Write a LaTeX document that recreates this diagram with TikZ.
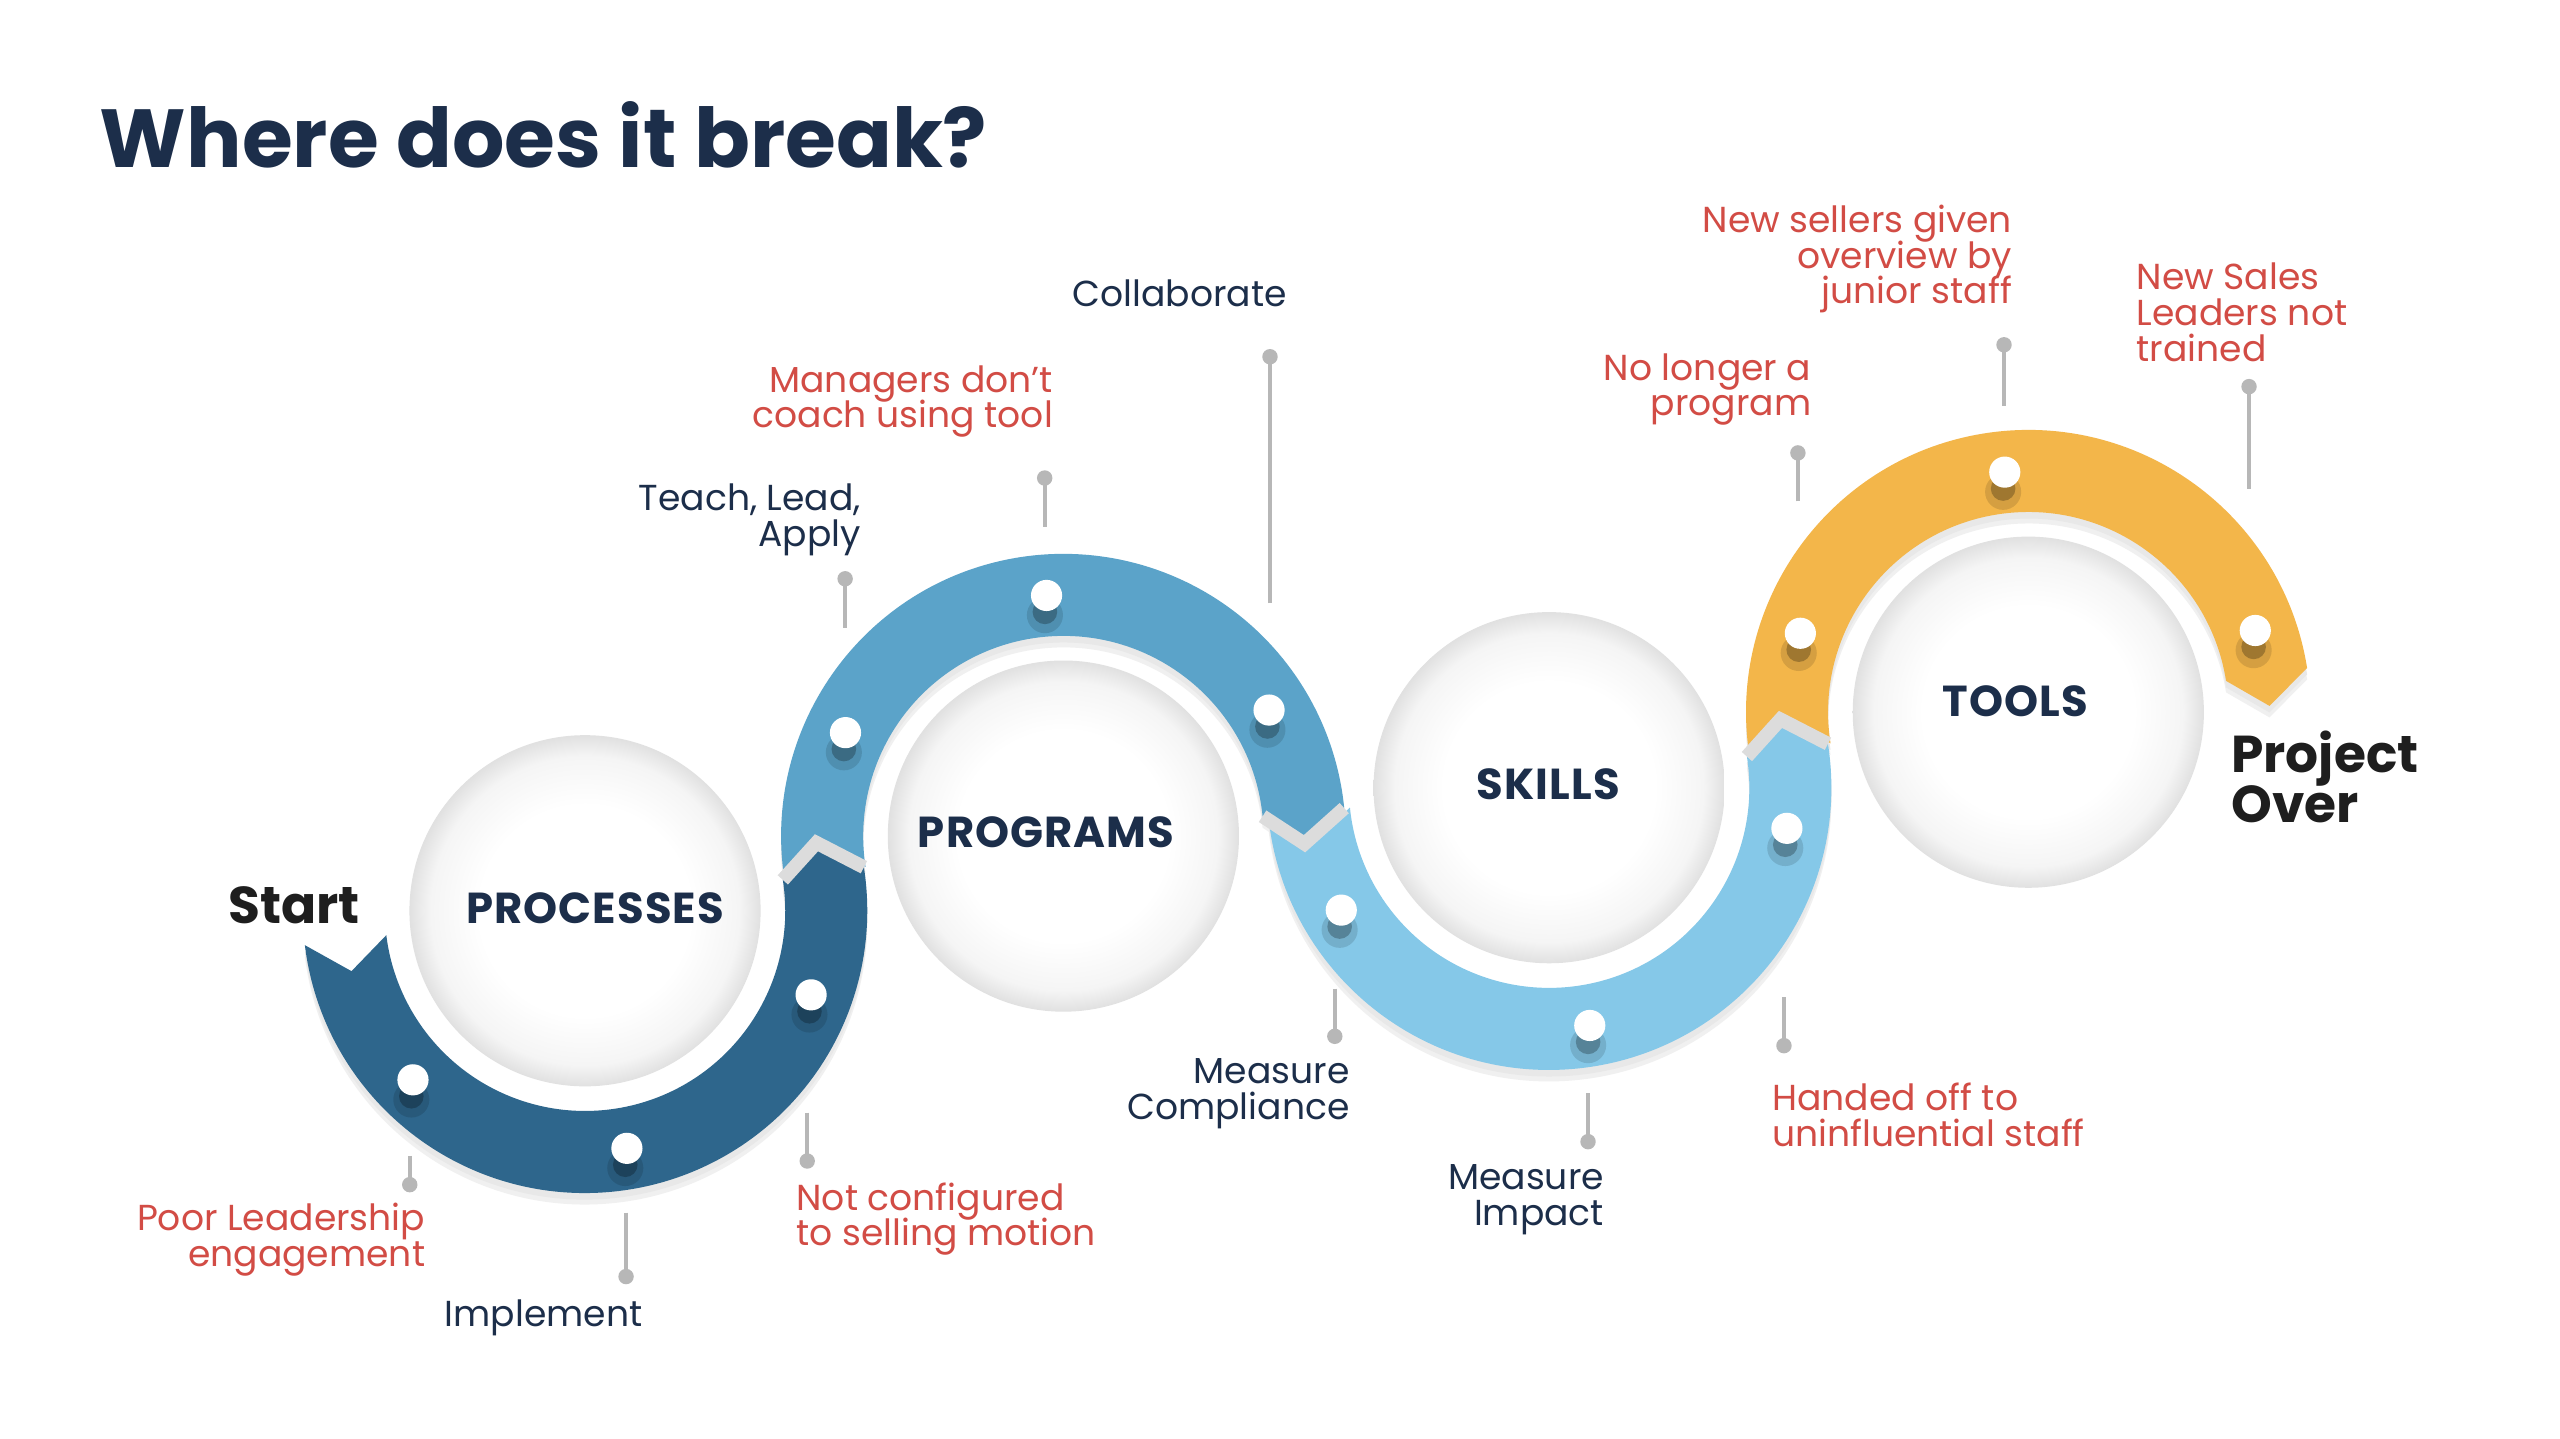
\documentclass[tikz,border=0pt]{standalone}
\usepackage{fontspec}
\setmainfont{Poppins}
\usetikzlibrary{calc}

\definecolor{navy}{HTML}{1C2E4A}
\definecolor{inkblack}{HTML}{1E1E1E}
\definecolor{breakred}{HTML}{D24C45}
\definecolor{stemgray}{HTML}{B7B7B7}
\definecolor{gapgray}{HTML}{DCDCDC}
\definecolor{procblue}{HTML}{2E668C}
\definecolor{progblue}{HTML}{5BA3C9}
\definecolor{skillblue}{HTML}{85C8E8}
\definecolor{toolorange}{HTML}{F3B64A}

\pgfdeclareradialshading{discshade}{\pgfpoint{0bp}{0bp}}{color(0bp)=(white); color(15bp)=(white); color(22bp)=(black!4); color(25bp)=(black!12); color(50bp)=(black!12)}

\newcommand{\labfont}{\fontsize{11}{10.85}\selectfont\lineskiplimit=-20pt}
\newcommand{\catfont}{\fontsize{13.2}{14}\selectfont\bfseries\addfontfeature{LetterSpace=2.5}}
\newcommand{\tipfont}{\fontsize{15.8}{15.25}\selectfont\bfseries\lineskiplimit=-20pt}

% ring radii and chevron angle
\def\Ro{172}
\def\Ri{122}
\def\Rm{147}
\def\dt{7.5}

% #1 centre, #2 start angle, #3 end angle, #4 sense (+1/-1), #5 fill
\newcommand{\ringseg}[5]{%
  \fill[#5] ($(#1)+(#2:\Ro)$) arc[start angle=#2, end angle=#3, radius=\Ro]
    -- ($(#1)+({#3+#4*\dt}:\Rm)$) -- ($(#1)+(#3:\Ri)$)
    arc[start angle=#3, end angle=#2, radius=\Ri]
    -- ($(#1)+({#2+#4*\dt}:\Rm)$) -- cycle;}

\tikzset{
  lab/.style={font=\labfont, inner sep=0pt, text=navy},
  brk/.style={lab, text=breakred},
  cat/.style={font=\catfont, inner sep=0pt, text=navy},
  ends/.style={font=\tipfont, inner sep=0pt, text=inkblack},
  stem/.style={draw=stemgray, line width=1.15pt},
  gap/.style={draw=gapgray, line width=4.2pt, line join=miter}
}

\begin{document}
\begin{tikzpicture}[x=0.5pt, y=0.5pt]
  \useasboundingbox[fill=white] (0,-876.3) rectangle (1560,0);

  % centres
  \coordinate (P1) at (356.5,-555);
  \coordinate (P2) at (648,-509.5);
  \coordinate (P3) at (944,-480);
  \coordinate (P4) at (1236,-434);

  % title
  \node[font=\fontsize{25.1}{30}\selectfont\bfseries, text=navy, inner sep=0pt,
        anchor=base west] (title) at (60.5,-102) {Where does it break?};

  % ring shadows
  \begin{scope}[transform canvas={yshift=-3.5pt}]
    \ringseg{P1}{187}{368.87}{1}{black!6}
    \ringseg{P2}{188.87}{5.69}{-1}{black!6}
    \ringseg{P3}{185.69}{368.95}{1}{black!6}
    \ringseg{P4}{188.95}{9}{-1}{black!6}
  \end{scope}
  \begin{scope}[transform canvas={yshift=-2pt}]
    \ringseg{P1}{187}{368.87}{1}{black!9}
    \ringseg{P2}{188.87}{5.69}{-1}{black!9}
    \ringseg{P3}{185.69}{368.95}{1}{black!9}
    \ringseg{P4}{188.95}{9}{-1}{black!9}
  \end{scope}

  % discs
  \foreach \c in {P1,P2,P3,P4}
    \shade[shading=discshade] (\c) circle (107);

  % ring segments
  \ringseg{P1}{187}{368.87}{1}{procblue}
  \ringseg{P2}{188.87}{5.69}{-1}{progblue}
  \ringseg{P3}{185.69}{368.95}{1}{skillblue}
  \ringseg{P4}{188.95}{9}{-1}{toolorange}

  % joints
  \draw[gap] ($(P1)+(8.87:\Ro)$) -- ($(P1)+(16.37:\Rm)$) -- ($(P1)+(8.87:\Ri)$);
  \draw[gap] ($(P2)+(5.69:\Ri)$) -- ($(P2)+(-1.81:\Rm)$) -- ($(P2)+(5.69:\Ro)$);
  \draw[gap] ($(P3)+(8.95:\Ro)$) -- ($(P3)+(16.45:\Rm)$) -- ($(P3)+(8.95:\Ri)$);

  % dots on the rings
  \foreach \c/\a in {P1/224.5, P1/280, P1/339.6, P2/154.6, P2/94, P2/31.5,
                     P3/210.5, P3/279.7, P3/350.3, P4/160.9, P4/95.6, P4/19.8}{
    \fill[black, opacity=.12] ($(\c)+(\a:\Rm)+(-1,-12)$) circle (11);
    \fill[black, opacity=.25] ($(\c)+(\a:\Rm)+(-1,-10)$) circle (7.5);
    \fill[white] ($(\c)+(\a:\Rm)$) circle (9.5);
  }

  % stems
  \foreach \n/\x/\ya/\yb in {s1/249.7/704.4/721.9, s2/381.5/738.9/777.9,
      s3/491.9/678/707.5, s4/515/382.5/352.7, s5/636.6/321.1/291.3,
      s6/773.9/367.6/217.4, s7/813.4/602.4/631.5, s8/967.7/666.3/695.7,
      s9/1087.1/607.8/637.2, s10/1095.6/305.5/276, s11/1221.2/247.4/210.1,
      s12/1370.5/297.8/235.6}{
    \coordinate (\n a) at (\x,-\ya);
    \coordinate (\n b) at (\x,-\yb);
    \draw[stem] (\n a) -- (\n b);
    \fill[stemgray] (\n b) circle (4.7);
  }

  % stage names
  \node[cat, anchor=base] (proc) at (362.6,-562.6) {PROCESSES};
  \node[cat, anchor=base] (prog) at (637.5,-516.4) {PROGRAMS};
  \node[cat, anchor=base] (skill) at (943.6,-487.3) {SKILLS};
  \node[cat, anchor=base] (tool) at (1228.2,-436.7) {TOOLS};
  \node[ends, anchor=base east] (start) at (219.8,-562.6) {Start};
  \node[ends, anchor=base west, align=left] (over) at (1359.3,-501.5) {Project\\Over};

  % labels (base = last line)
  \node[brk, anchor=base east, align=right] (poor) at (259.5,-771.5) {Poor Leadership\\engagement};
  \node[lab, anchor=base east] (impl) at (391.9,-808.2) {Implement};
  \node[brk, anchor=base west, align=left] (notconf) at (485,-759.2) {Not configured\\to selling motion};
  \node[lab, anchor=base east, align=right] (teach) at (525,-332.9) {Teach, Lead,\\Apply};
  \node[brk, anchor=base east, align=right] (coach) at (642,-260.6) {Managers don’t\\coach using tool};
  \node[lab, anchor=base east] (collab) at (784.5,-186.9) {Collaborate};
  \node[lab, anchor=base east, align=right] (compl) at (822.7,-682.1) {Measure\\Compliance};
  \node[lab, anchor=base east, align=right] (impact) at (977.8,-746.5) {Measure\\Impact};
  \node[brk, anchor=base west, align=left] (handed) at (1079.5,-698.4) {Handed off to\\uninfluential staff};
  \node[brk, anchor=base east, align=right] (nolonger) at (1104.2,-253.3) {No longer a\\program};
  \node[brk, anchor=base east, align=right] (sellers) at (1226.5,-185.2) {New sellers given\\overview by\\junior staff};
  \node[brk, anchor=base west, align=left] (leaders) at (1301.7,-220) {New Sales\\Leaders not\\trained};
\end{tikzpicture}
\end{document}
